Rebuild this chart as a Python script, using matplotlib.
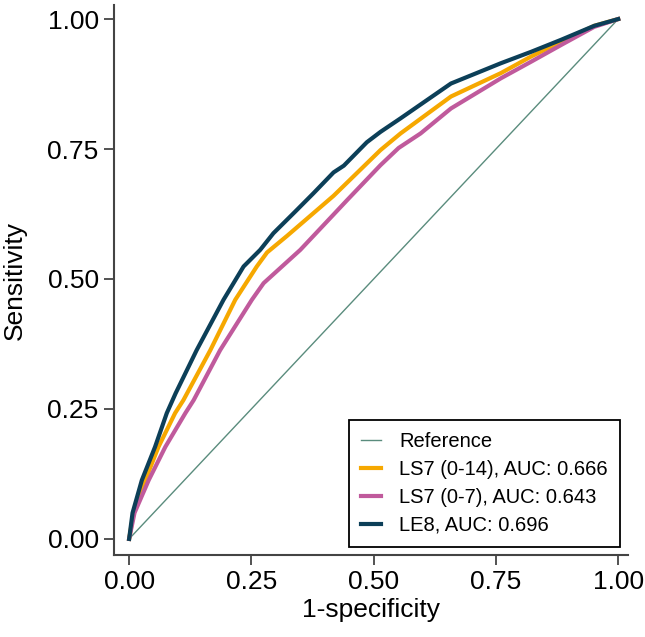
import matplotlib
matplotlib.use("Agg")
from matplotlib import pyplot as plt

# Data
ref_x = [0.0, 1.0]
ref_y = [0.0, 1.0]

le8_x = [0.0, 0.007, 0.026, 0.053, 0.077, 0.095, 0.138, 0.193, 0.234, 0.268, 0.295,
         0.340, 0.377, 0.418, 0.439, 0.486, 0.514, 0.555, 0.658, 0.760, 0.822, 0.883,
         0.951, 1.0]
le8_y = [0.0, 0.050, 0.113, 0.177, 0.242, 0.280, 0.363, 0.460, 0.524, 0.556, 0.588,
         0.630, 0.665, 0.705, 0.718, 0.763, 0.783, 0.809, 0.876, 0.915, 0.937, 0.960,
         0.987, 1.0]

ls14_x = [0.0, 0.009, 0.033, 0.060, 0.094, 0.111, 0.166, 0.217, 0.261, 0.282, 0.323,
          0.418, 0.514, 0.555, 0.658, 0.760, 0.822, 0.883, 0.951, 1.0]
ls14_y = [0.0, 0.050, 0.113, 0.177, 0.242, 0.267, 0.363, 0.460, 0.524, 0.551, 0.583,
          0.660, 0.748, 0.780, 0.851, 0.896, 0.928, 0.956, 0.987, 1.0]

ls7_x = [0.0, 0.011, 0.040, 0.074, 0.115, 0.132, 0.186, 0.251, 0.275, 0.350, 0.446,
         0.514, 0.551, 0.596, 0.658, 0.760, 0.822, 0.883, 0.951, 1.0]
ls7_y = [0.0, 0.050, 0.113, 0.177, 0.242, 0.267, 0.363, 0.460, 0.492, 0.556, 0.652,
         0.719, 0.752, 0.780, 0.828, 0.886, 0.918, 0.950, 0.985, 1.0]

labels = ["Reference", "LS7 (0-14), AUC: 0.666", "LS7 (0-7), AUC: 0.643", "LE8, AUC: 0.696"]
ticks = [0.0, 0.25, 0.5, 0.75, 1.0]
tick_labels = ["0.00", "0.25", "0.50", "0.75", "1.00"]

plt.rcParams['font.family'] = ['Liberation Sans', 'DejaVu Sans']

fig = plt.figure(figsize=(6.45, 6.37), dpi=100)
ax = fig.add_axes([0.1767, 0.1287, 0.7969, 0.8634])

ax.plot(ref_x, ref_y, color='#5a8c7d', lw=1.0, label=labels[0], zorder=2)
ax.plot(ls14_x, ls14_y, color='#f6a800', lw=3.0, label=labels[1], zorder=3)
ax.plot(ls7_x, ls7_y, color='#c05a9c', lw=3.0, label=labels[2], zorder=3)
ax.plot(le8_x, le8_y, color='#0c3f58', lw=3.0, label=labels[3], zorder=4)

ax.set_xlim(-0.031, 1.02)
ax.set_ylim(-0.031, 1.027)
ax.set_xticks(ticks)
ax.set_xticklabels(tick_labels)
ax.set_yticks(ticks)
ax.set_yticklabels(tick_labels)
ax.tick_params(labelsize=19, length=7, width=1.3, color='#444444', pad=4)

for side in ['top', 'right']:
    ax.spines[side].set_visible(False)
for side in ['left', 'bottom']:
    ax.spines[side].set_linewidth(1.5)
    ax.spines[side].set_color('#444444')

ax.set_xlabel("1-specificity", fontsize=19, labelpad=3)
ax.set_ylabel("Sensitivity", fontsize=19, labelpad=15)

leg = ax.legend(loc='lower right', bbox_to_anchor=(0.984, 0.0145), fontsize=14.5,
                frameon=True, fancybox=False, edgecolor='black', framealpha=1,
                handlelength=1.0, handletextpad=0.9, labelspacing=0.45,
                borderpad=0.6, borderaxespad=0)
leg.get_frame().set_linewidth(1.3)

fig.savefig("out.png", dpi=100)
